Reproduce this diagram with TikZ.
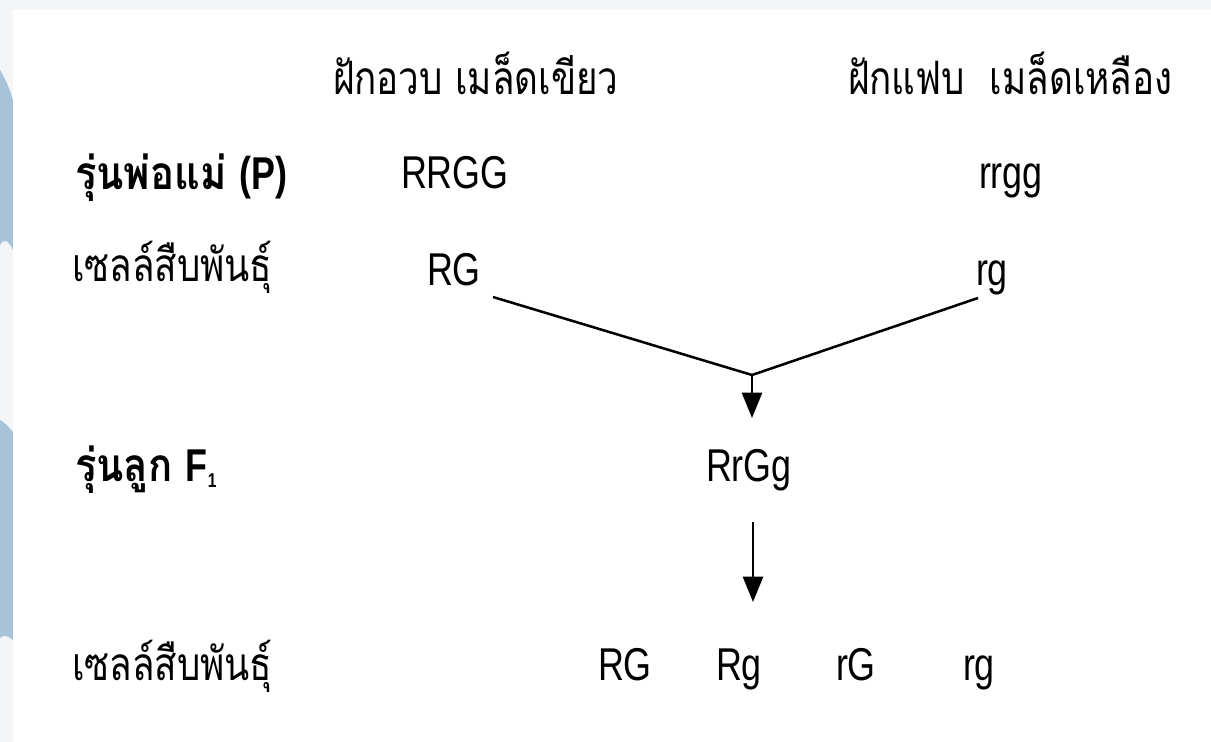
\documentclass[tikz,border=0pt]{standalone}
\usepackage{fontspec}
\setmainfont{Liberation Sans}[FakeStretch=0.78]
\newfontfamily\thai[Script=Thai,FakeStretch=0.80,BoldFeatures={FakeStretch=0.87}]{Loma}
\usetikzlibrary{arrows.meta}
\definecolor{bandgray}{RGB}{244,245,246}
\definecolor{blobblue}{RGB}{168,194,216}
\begin{document}
\begin{tikzpicture}[x=0.75pt,y=-0.75pt,
  lab/.style={inner sep=0pt, outer sep=0pt, anchor=base west, font=\fontsize{34.5}{40}\selectfont},
  thlab/.style={lab, font=\fontsize{34.5}{40}\selectfont\thai},
  thbold/.style={lab, font=\fontsize{34.5}{40}\selectfont\thai\bfseries},
  conn/.style={line width=1.9pt, black},
  arr/.style={conn, -{Triangle[length=19pt,width=15pt]}}]
% background
\fill[bandgray] (0,0) rectangle (1211,742);
\fill[blobblue] (0,70) .. controls (6,80) and (10,90) .. (13,100) -- (13,250) .. controls (8,240) and (4,238) .. (0,245) -- cycle;
\fill[blobblue] (0,420) .. controls (5,422) and (9,428) .. (13,432) -- (13,640) .. controls (8,636) and (4,634) .. (0,638) -- cycle;
\fill[white] (13,10) rectangle (1211,742);
\useasboundingbox (0,0) rectangle (1211,742);
% headers
\node[thlab] (hl) at (333,95) {ฝักอวบ เมล็ดเขียว};
\node[thlab] (hr) at (848,95) {ฝักแฟบ\ \ เมล็ดเหลือง};
% row labels
\node[thbold] (lp) at (75,190) {รุ่นพ่อแม่ {\rmfamily\bfseries (P)}};
\node[thlab] (lg1) at (72,281) {เซลล์สืบพันธุ์};
\node[thbold] (lf) at (75,481) {รุ่นลูก {\rmfamily\bfseries F\raisebox{-5pt}{\fontsize{15}{18}\selectfont 1}}};
\node[thlab] (lg2) at (72,680) {เซลล์สืบพันธุ์};
% genotypes
\node[lab] (pl) at (401,188) {RRGG};
\node[lab] (pr) at (979,188) {rrgg};
\node[lab] (gl) at (427,285) {RG};
\node[lab] (gr) at (976,285) {rg};
\node[lab] (f1) at (706,481) {RrGg};
\node[lab] (b1) at (598,680) {RG};
\node[lab] (b2) at (716,680) {Rg};
\node[lab] (b3) at (836,680) {rG};
\node[lab] (b4) at (963,680) {rg};
% connectors
\coordinate (gls) at (493,297);
\coordinate (grs) at (978,298);
\coordinate (j) at (752,375);
\coordinate (jt) at (752,418);
\coordinate (a2s) at (753,522);
\coordinate (a2t) at (753,602);
\draw[conn] (gls) -- (j) -- (grs);
\draw[arr] (j) -- (jt);
\draw[arr] (a2s) -- (a2t);
\end{tikzpicture}
\end{document}
